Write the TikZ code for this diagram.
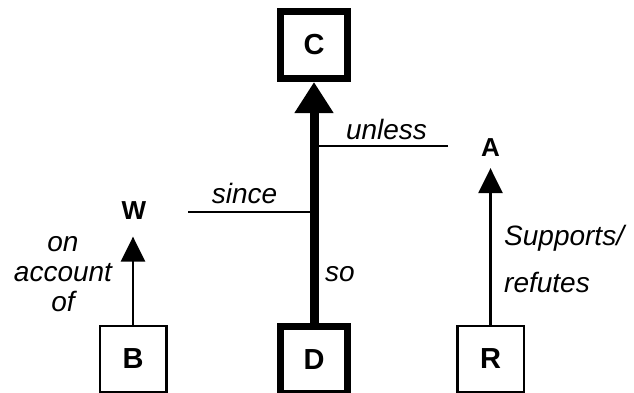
\documentclass[tikz,border=0pt]{standalone}
\usepackage{fontspec}
\setmainfont{Liberation Sans}
\usetikzlibrary{arrows.meta}

\begin{document}
\begin{tikzpicture}[x = 1pt, y = -1pt, every node/.style = {inner sep = 0pt},
        claim/.style = {draw, line width = 7pt, minimum size = 67pt, font = \bfseries\fontsize{29}{32}\selectfont},
        datum/.style = {draw, line width = 2.5pt, minimum size = 66.5pt, font = \bfseries\fontsize{29}{32}\selectfont},
        tag/.style = {font = \bfseries\fontsize{26}{30}\selectfont},
        word/.style = {font = \itshape\fontsize{28}{30}\selectfont},
        link/.style = {line width = 2pt},
        support/.style = {line width = 2.5pt, -{Triangle[length = 25pt, width = 24pt]}}]
    \useasboundingbox (0, 0) rectangle (634, 392);
    % claim, data and the qualifying labels
    \node[claim] (C) at (314, 45) {C};
    \node[claim] (D) at (314, 360) {D};
    \node[datum] (B) at (133, 359) {B};
    \node[datum] (R) at (490.5, 359) {R};
    \node[tag] (W) at (134, 210.5) {W};
    \node[tag] (A) at (490.5, 148) {A};
    \coordinate (since end) at (188, 212);
    \coordinate (unless end) at (448, 146);
    % connectors
    \draw[line width = 9pt, -{Triangle[length = 31pt, width = 37pt]}] (D) -- (C);
    \draw[support, shorten > = 17pt] (B) -- (B |- W.south);
    \draw[support, shorten > = 11pt] (R) -- (A);
    \draw[link] (since end) -- (since end -| C);
    \draw[link] (unless end) -- (unless end -| C);
    % words on the connectors
    \node[word, anchor = base] (since) at (244.5, 203) {since};
    \node[word, anchor = base] (unless) at (386.5, 139) {unless};
    \node[word, anchor = base] (so) at (340, 281) {so};
    \node[word, align = center, anchor = base] (account) at (63, 311) {on\\account\\of};
    \node[word, align = left, anchor = base west] (supports) at (504, 292) {Supports/\\[17pt]refutes};
\end{tikzpicture}
\end{document}
